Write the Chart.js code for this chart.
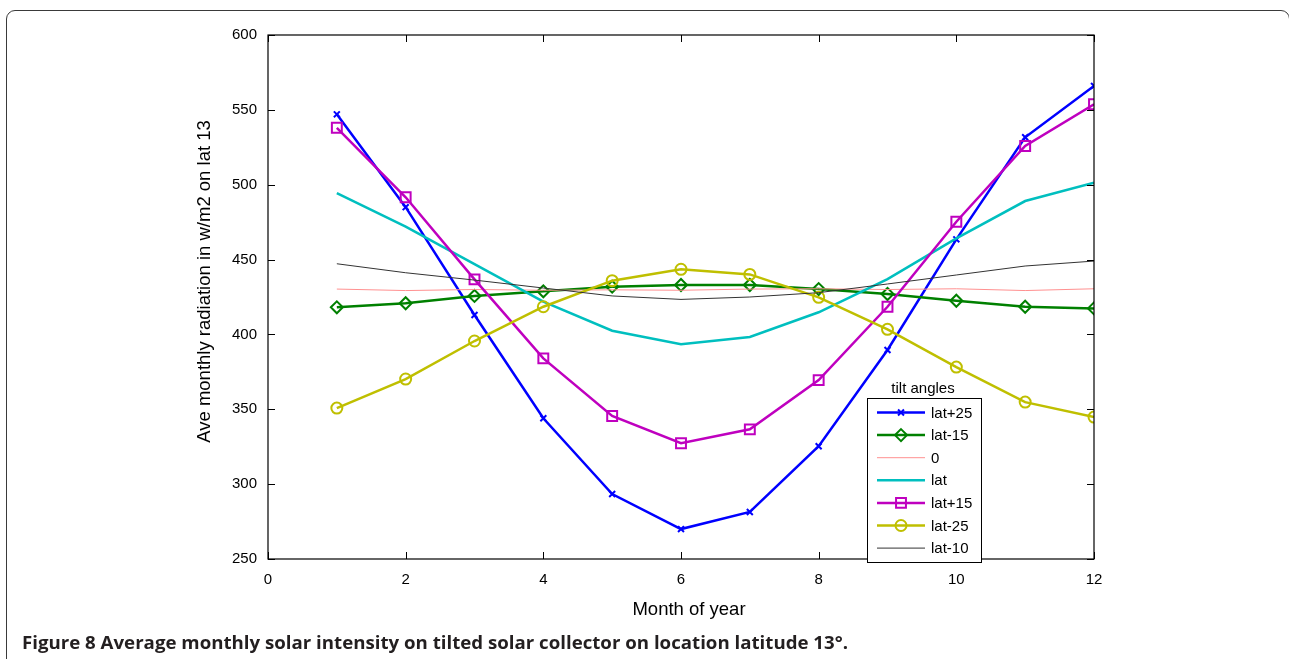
<!DOCTYPE html>
<html><head><meta charset="utf-8">
<script src="https://cdn.jsdelivr.net/npm/chart.js@4/dist/chart.umd.min.js"></script>
<style>
html,body{margin:0;padding:0;background:#fff;width:1289px;height:659px;overflow:hidden;}
#frame{position:absolute;left:6px;top:10px;width:1284px;height:720px;border:1.5px solid #3a3a3a;border-radius:9px;box-sizing:border-box;}
#wrap{position:absolute;left:0;top:0;width:1289px;height:659px;}
#cap{position:absolute;left:22px;top:631px;font-family:"Open Sans","DejaVu Sans",sans-serif;font-weight:700;font-size:17.5px;line-height:22px;color:#231f20;white-space:nowrap;transform-origin:0 0;}
#cap b{font-weight:700;}
</style></head><body>
<div id="frame"></div>
<div id="wrap"><canvas id="c" width="1289" height="659"></canvas></div>
<div id="cap"><b>Figure 8</b> Average monthly solar intensity on tilted solar collector on location latitude 13°.</div>
<script>
// ---- data ----
const months = [1,2,3,4,5,6,7,8,9,10,11,12];
const seriesNames = ['lat+25','lat-15','0','lat','lat+15','lat-25','lat-10'];
const latPlus25  = [547, 485, 413, 344, 293.4, 270, 281.4, 325.3, 389.6, 463.5, 531.7, 566];
const latMinus15 = [418.1, 420.8, 425.7, 428.8, 431.9, 433, 433, 430.3, 427, 422.5, 418.5, 417.4];
const tilt0      = [430.3, 429.3, 430, 429.5, 429.8, 429.5, 430.3, 430.5, 430, 430.5, 429.3, 430.5];
const latTilt    = [494.3, 472, 447, 421.9, 402.5, 393.4, 398.3, 414.8, 437, 464.2, 489.1, 501.3];
const latPlus15  = [538, 491.6, 436.8, 384, 345.5, 327.3, 336.6, 369.5, 418.5, 475.3, 525.9, 553.7];
const latMinus25 = [350.8, 370.2, 395.6, 418.5, 435.9, 443.5, 440.1, 424.8, 403.4, 378.2, 354.8, 344.8];
const latMinus10 = [447.2, 441.2, 436.3, 431, 425.7, 423.4, 425, 427.9, 433.7, 439.7, 445.7, 449];
const xTicks = [0,2,4,6,8,10,12];
const yTicks = [250,300,350,400,450,500,550,600];
const xTitle = 'Month of year';
const yTitle = 'Ave monthly radiation in w/m2 on lat 13';
const legendTitle = 'tilt angles';

const seriesValues = [latPlus25, latMinus15, tilt0, latTilt, latPlus15, latMinus25, latMinus10];
const colors = ['#0000ff','#008000','#ff9090','#00bfbf','#bf00bf','#bfbf00','#333333'];
const widths = [2.5, 2.5, 1, 2.5, 2.5, 2.5, 1];
const markers = ['crossRot','rectRot',null,null,'rect','circle',null];
const markerR = {crossRot:4.2, rectRot:6, rect:7, circle:5.5};

function pts(arr){ return months.map((m,i)=>({x:m,y:arr[i]})); }

const datasets = seriesNames.map((n,i)=>({
  label:n, data:pts(seriesValues[i]),
  borderColor:colors[i], backgroundColor:colors[i], borderWidth:widths[i],
  pointStyle: markers[i] || 'circle',
  pointRadius: markers[i] ? markerR[markers[i]] : 0,
  pointBorderWidth: 2, pointBackgroundColor:'rgba(0,0,0,0)', pointBorderColor:colors[i],
  pointHoverRadius:0, tension:0, fill:false, order: seriesNames.length - i
}));

const FONT = '"Liberation Sans", Arial, Helvetica, sans-serif';

function drawMarker(ctx, style, x, y, r, color){
  ctx.save(); ctx.strokeStyle=color; ctx.lineWidth=2; ctx.beginPath();
  if(style==='circle'){ ctx.arc(x,y,r,0,Math.PI*2); }
  else if(style==='rect'){ const s=r*Math.SQRT1_2; ctx.rect(x-s,y-s,2*s,2*s); }
  else if(style==='rectRot'){ ctx.moveTo(x,y-r); ctx.lineTo(x+r,y); ctx.lineTo(x,y+r); ctx.lineTo(x-r,y); ctx.closePath(); }
  else if(style==='crossRot'){ const s=r*Math.SQRT1_2; ctx.moveTo(x-s,y-s); ctx.lineTo(x+s,y+s); ctx.moveTo(x+s,y-s); ctx.lineTo(x-s,y+s); }
  ctx.stroke(); ctx.restore();
}

const framePlugin = {
  id:'frameTicks',
  afterDatasetsDraw(chart){
    const {ctx, chartArea:a, scales:{x, y}} = chart;
    ctx.save();
    ctx.strokeStyle='#000'; ctx.lineWidth=1.2;
    ctx.strokeRect(a.left, a.top, a.right-a.left, a.bottom-a.top);
    ctx.lineWidth=1; ctx.beginPath();
    const tl = 7;
    xTicks.forEach(v=>{ const px=Math.round(x.getPixelForValue(v))+0.5;
      ctx.moveTo(px,a.bottom); ctx.lineTo(px,a.bottom-tl);
      ctx.moveTo(px,a.top); ctx.lineTo(px,a.top+tl); });
    yTicks.forEach(v=>{ const py=Math.round(y.getPixelForValue(v))+0.5;
      ctx.moveTo(a.left,py); ctx.lineTo(a.left+tl,py);
      ctx.moveTo(a.right,py); ctx.lineTo(a.right-tl,py); });
    ctx.stroke();
    // axis titles
    ctx.fillStyle='#000'; ctx.font='18.5px '+FONT;
    ctx.textAlign='center'; ctx.textBaseline='alphabetic';
    ctx.fillText(xTitle, 689, 615);
    ctx.save(); ctx.translate(210, 281.5); ctx.rotate(-Math.PI/2);
    ctx.fillText(yTitle, 0, 0); ctx.restore();
    // legend
    const L={x:867, y:398, w:114, h:164, row0:412.5, dy:22.6};
    ctx.fillStyle='#fff'; ctx.fillRect(L.x, L.y, L.w, L.h);
    ctx.strokeStyle='#000'; ctx.lineWidth=1; ctx.strokeRect(L.x+0.5, L.y+0.5, L.w, L.h);
    ctx.fillStyle='#000'; ctx.font='15px '+FONT; ctx.textAlign='center'; ctx.textBaseline='middle';
    ctx.fillText(legendTitle, L.x+L.w/2-1, 389);
    ctx.textAlign='left';
    chart.data.datasets.forEach((ds,i)=>{
      const yy = L.row0 + i*L.dy;
      ctx.strokeStyle=ds.borderColor; ctx.lineWidth=ds.borderWidth;
      ctx.beginPath(); ctx.moveTo(877,yy); ctx.lineTo(925,yy); ctx.stroke();
      if(markers[i]) drawMarker(ctx, markers[i], 901, yy, markerR[markers[i]], ds.borderColor);
      ctx.fillStyle='#000'; ctx.fillText(ds.label, 931, yy+1);
    });
    ctx.restore();
  }
};

new Chart(document.getElementById('c'), {
  type:'line',
  data:{datasets},
  options:{
    responsive:false, animation:false, devicePixelRatio:1,
    layout:{padding:{left:0, top:35, right:195, bottom:0}},
    plugins:{legend:{display:false}, tooltip:{enabled:false}},
    scales:{
      x:{type:'linear', min:0, max:12,
        afterBuildTicks(s){ s.ticks = xTicks.map(v=>({value:v})); },
        ticks:{font:{size:15, family:FONT}, color:'#000', padding:12, maxRotation:0},
        grid:{display:false, drawTicks:false}, border:{display:false},
        afterFit(s){ s.height = 100; }},
      y:{type:'linear', min:250, max:600,
        afterBuildTicks(s){ s.ticks = yTicks.map(v=>({value:v})); },
        ticks:{font:{size:15, family:FONT}, color:'#000', padding:11},
        grid:{display:false, drawTicks:false}, border:{display:false},
        afterFit(s){ s.width = 268; }}
    }
  },
  plugins:[framePlugin]
});

// fit caption width
(function(){
  const cap=document.getElementById('cap');
  const w=cap.getBoundingClientRect().width;
  const target=826;
  cap.style.transform='scaleX('+(target/w)+')';
})();
</script>
</body></html>
